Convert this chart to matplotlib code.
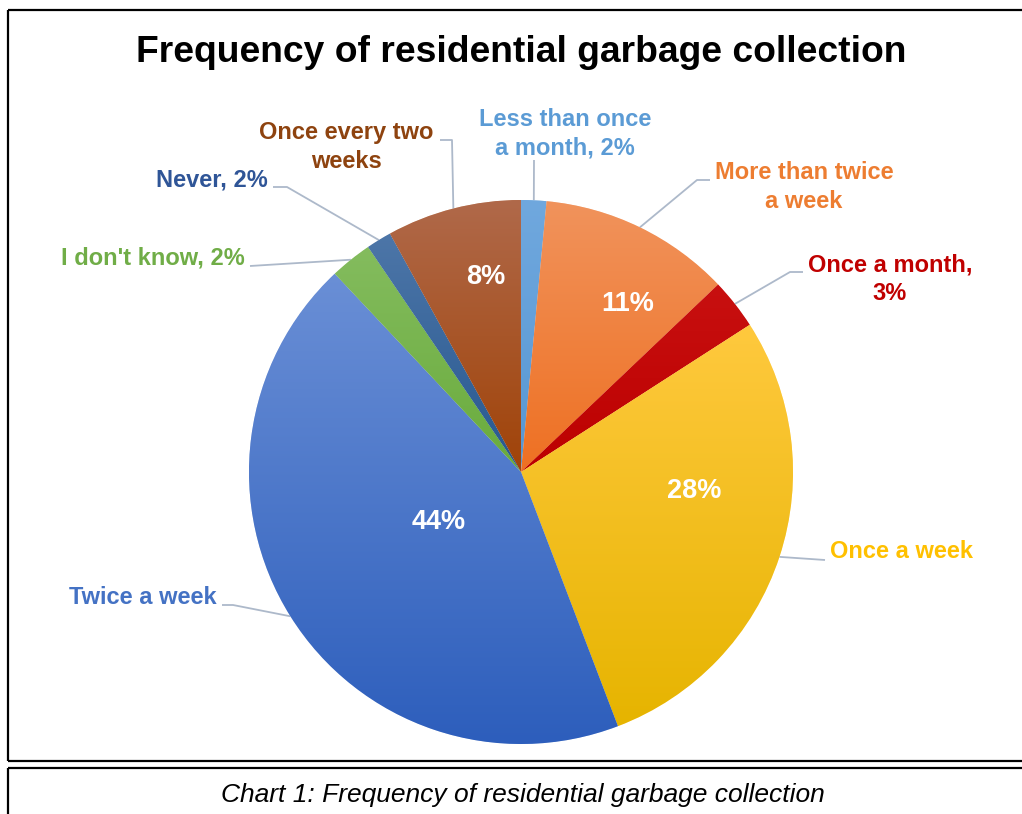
import numpy as np
import matplotlib.pyplot as plt

W, H = 1022, 814  # canvas in pixels, axes use the same units (y up)

# data, clockwise from 12 o'clock
names = ["Less than once a month", "More than twice a week", "Once a month", "Once a week",
         "Twice a week", "I don't know", "Never", "Once every two weeks"]
values = [1.5, 11.4, 3.0, 28.3, 43.8, 2.5, 1.5, 8.0]
outer_labels = ["Less than once\na month, {}", "More than twice\na week", "Once a month,\n{}",
                "Once a week", "Twice a week", "I don't know, {}", "Never, {}", "Once every two\nweeks"]
inner_pct = [False, True, False, True, True, False, False, True]
colors = ["#5B9BD5", "#ED7D31", "#C00000", "#FFC000", "#4472C4", "#70AD47", "#2E5C94", "#9E480E"]
grad_top = ["#70A8DE", "#F1935C", "#C81010", "#FFC93E", "#6A8FD6", "#84BC5E", "#4D76A8", "#B0694A"]
grad_bot = ["#5797D3", "#EE7022", "#BC0000", "#E6B400", "#2D5EBC", "#69AB3C", "#275890", "#A04308"]
text_colors = ["#5B9BD5", "#ED7D31", "#C00000", "#FFC000", "#4472C4", "#70AD47", "#2F5597", "#8E430F"]

title = "Frequency of residential garbage collection"
caption = "Chart 1: Frequency of residential garbage collection"

# layout (pixel positions, y measured from the top)
CX, CY, R = 521, 472, 272
label_pos = [(565, 134, "center"), (804, 187, "center"), (890, 279, "center"), (830, 551, "left"),
             (217, 597, "right"), (245, 258, "right"), (268, 180, "right"), (346, 147, "center")]
line_end = [(534, 160), (710, 180), (803, 272), (825, 560),
            (222, 605), (250, 266), (273, 187), (440, 140)]
elbow = [None, (697, 180), (790, 272), None, (233, 605), None, (287, 187), (452, 140)]
inner_pos = [None, (628, 304), None, (694, 491), (439, 522), None, None, (486, 277)]

FONT = "Liberation Sans"


def px(x, y):
    return x, H - y


fig = plt.figure(figsize=(W / 100, H / 100), dpi=100)
ax = fig.add_axes([0, 0, 1, 1])

wedges, _ = ax.pie(values, colors=colors, startangle=90, counterclock=False,
                   radius=R, center=px(CX, CY), frame=True,
                   wedgeprops=dict(edgecolor="white", linewidth=0.4))

# vertical gradient per slice, lighter on top
for w, c0, c1 in zip(wedges, grad_top, grad_bot):
    ext = w.get_path().get_extents()
    top = np.array(plt.matplotlib.colors.to_rgb(c0))
    bot = np.array(plt.matplotlib.colors.to_rgb(c1))
    t = np.linspace(0, 1, 256)[:, None]
    img = (top[None, :] * (1 - t) + bot[None, :] * t)[:, None, :]
    im = ax.imshow(img, extent=(ext.x0, ext.x1, ext.y0, ext.y1), origin="upper",
                   aspect="auto", interpolation="bilinear", zorder=w.get_zorder() + 0.1)
    im.set_clip_path(w)

# percentages inside the big slices
for v, flag, pos in zip(values, inner_pct, inner_pos):
    if flag:
        ax.text(*px(*pos), f"{v:.0f}%", ha="center", va="center", color="white",
                fontsize=19.5, fontweight="bold", family=FONT, zorder=5)

# outer labels with leader lines
theta = 90 - (np.cumsum(values) - np.array(values) / 2) / sum(values) * 360
lc = "#ADB9CA"
for i, lab in enumerate(outer_labels):
    a = np.deg2rad(theta[i])
    sx, sy = CX + R * np.cos(a), CY - R * np.sin(a)
    pts = [(sx, sy)]
    if elbow[i] is not None:
        pts.append(elbow[i])
    pts.append(line_end[i])
    xs, ys = zip(*[px(*p) for p in pts])
    ax.plot(xs, ys, color=lc, lw=1.3, zorder=1, solid_capstyle="butt")
    x, y, ha = label_pos[i]
    ax.text(*px(x, y), lab.format(f"{values[i]:.0f}%"), ha=ha, va="center",
            multialignment="center", color=text_colors[i], fontsize=17,
            fontweight="bold", family=FONT, linespacing=1.28, zorder=5)

ax.text(*px(521, 53), title, ha="center", va="center", fontsize=26.8,
        fontweight="bold", family=FONT)
ax.text(*px(523, 795), caption, ha="center", va="center", fontsize=19,
        style="italic", family=FONT)

# page frame around chart and caption box
for xs, ys in [((8, W), (10, 10)), ((8, 8), (10, 761)), ((8, W), (761, 761)),
               ((8, W), (768, 768)), ((8, 8), (768, H))]:
    X, Y = zip(*[px(x, y) for x, y in zip(xs, ys)])
    ax.plot(X, Y, color="black", lw=1.6, solid_capstyle="butt", zorder=6)

ax.set_xlim(0, W)
ax.set_ylim(0, H)
ax.set_aspect("auto")
ax.axis("off")

fig.savefig("out.png", dpi=100)
